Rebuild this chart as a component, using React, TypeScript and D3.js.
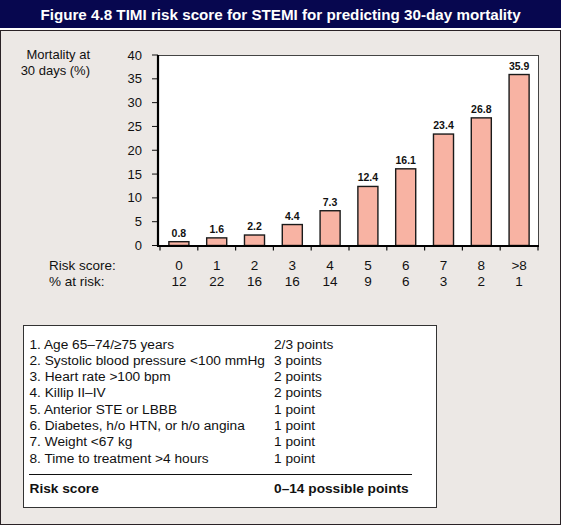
import React from "react";
import * as d3 from "d3";

const categories = ["0", "1", "2", "3", "4", "5", "6", "7", "8", ">8"];
const mortality = [0.8, 1.6, 2.2, 4.4, 7.3, 12.4, 16.1, 23.4, 26.8, 35.9];
const valueLabels = ["0.8", "1.6", "2.2", "4.4", "7.3", "12.4", "16.1", "23.4", "26.8", "35.9"];
const atRisk = ["12", "22", "16", "16", "14", "9", "6", "3", "2", "1"];
const yTicks = [0, 5, 10, 15, 20, 25, 30, 35, 40];
const criteria = [
  "1. Age 65\u201374/\u226575 years",
  "2. Systolic blood pressure <100 mmHg",
  "3. Heart rate >100 bpm",
  "4. Killip II\u2013IV",
  "5. Anterior STE or LBBB",
  "6. Diabetes, h/o HTN, or h/o angina",
  "7. Weight <67 kg",
  "8. Time to treatment >4 hours",
];
const points = ["2/3 points", "3 points", "2 points", "2 points", "1 point", "1 point", "1 point", "1 point"];
const title = "Figure 4.8 TIMI risk score for STEMI for predicting 30-day mortality";

const FONT = "'Liberation Sans', Arial, Helvetica, sans-serif";

export default function App() {
  const W = 561, H = 525;
  const plotL = 158, plotR = 538, plotT = 55, plotB = 245.5;
  const x = d3.scaleBand<string>().domain(categories).range([160, 538]).paddingInner(0.47).paddingOuter(0.235);
  const y = d3.scaleLinear().domain([0, 40]).range([plotB, plotT]);
  const step = x.step();
  const bw = x.bandwidth();
  const tickXs = d3.range(categories.length + 1).map((i) => 160 + i * step);
  const rowY = d3.scaleLinear().domain([0, 1]).range([348.5, 364.8]);

  return (
    <svg width={W} height={H} style={{ position: "absolute", left: 0, top: 0 }} fontFamily={FONT}>
      <rect x={0} y={0} width={W} height={H} fill="#ffffff" />
      <rect x={0} y={0} width={W} height={28} fill="#07074f" />
      <text x={280.5} y={20} textAnchor="middle" fill="#ffffff" fontSize={15.2} fontWeight="bold">{title}</text>
      <rect x={0.5} y={30.5} width={560} height={494} fill="#ece8e5" stroke="#2a2226" strokeWidth={1} />

      {/* plot area */}
      <rect x={plotL} y={plotT} width={plotR - plotL} height={plotB - plotT} fill="#ffffff" />
      <line x1={plotL} x2={plotR} y1={plotT + 0.5} y2={plotT + 0.5} stroke="#444" strokeWidth={1} />
      <line x1={plotR + 0.5} x2={plotR + 0.5} y1={plotT} y2={plotB} stroke="#444" strokeWidth={1} />

      {/* y label */}
      <text x={90} y={59} textAnchor="end" fontSize={13} fill="#111">Mortality at</text>
      <text x={90} y={75} textAnchor="end" fontSize={13} fill="#111">30 days (%)</text>

      {yTicks.map((t) => (
        <g key={t}>
          <line x1={152} x2={plotL} y1={y(t)} y2={y(t)} stroke="#111" strokeWidth={1} />
          <text x={142} y={y(t) + 4.5} textAnchor="end" fontSize={13} fill="#111">{t}</text>
        </g>
      ))}

      {mortality.map((v, i) => {
        const cx = (x(categories[i]) as number) + bw / 2;
        return (
          <g key={i}>
            <rect x={cx - bw / 2} y={y(v)} width={bw} height={plotB - y(v)} fill="#f8b3a3" stroke="#1a1a1a" strokeWidth={1.4} />
            <text x={cx} y={y(v) - 5} textAnchor="middle" fontSize={10.5} fontWeight="bold" fill="#111">{valueLabels[i]}</text>
            <text x={cx} y={270} textAnchor="middle" fontSize={13.5} fill="#111">{categories[i]}</text>
            <text x={cx} y={286} textAnchor="middle" fontSize={13.5} fill="#111">{atRisk[i]}</text>
          </g>
        );
      })}

      {tickXs.map((tx, i) => (
        <line key={i} x1={tx} x2={tx} y1={plotB} y2={plotB + 5} stroke="#111" strokeWidth={1.2} />
      ))}

      {/* axes */}
      <line x1={plotL} x2={plotL} y1={plotT} y2={plotB + 1} stroke="#000" strokeWidth={2.2} />
      <line x1={plotL - 1} x2={plotR + 1} y1={plotB + 0.5} y2={plotB + 0.5} stroke="#000" strokeWidth={2.2} />

      <text x={49} y={270} fontSize={13.5} fill="#111">Risk score:</text>
      <text x={49} y={286} fontSize={13.5} fill="#111">% at risk:</text>

      {/* table */}
      <rect x={23.5} y={325.5} width={413} height={182} fill="#ffffff" stroke="#333" strokeWidth={1} />
      {criteria.map((c, i) => (
        <g key={i}>
          <text x={29.5} y={rowY(i)} fontSize={13.7} fill="#111">{c}</text>
          <text x={274} y={rowY(i)} fontSize={13.7} fill="#111">{points[i]}</text>
        </g>
      ))}
      <line x1={29} x2={412} y1={474.5} y2={474.5} stroke="#111" strokeWidth={1} />
      <text x={29.5} y={492.5} fontSize={13.7} fontWeight="bold" fill="#111">Risk score</text>
      <text x={274} y={492.5} fontSize={13.7} fontWeight="bold" fill="#111">0{"\u2013"}14 possible points</text>
    </svg>
  );
}
